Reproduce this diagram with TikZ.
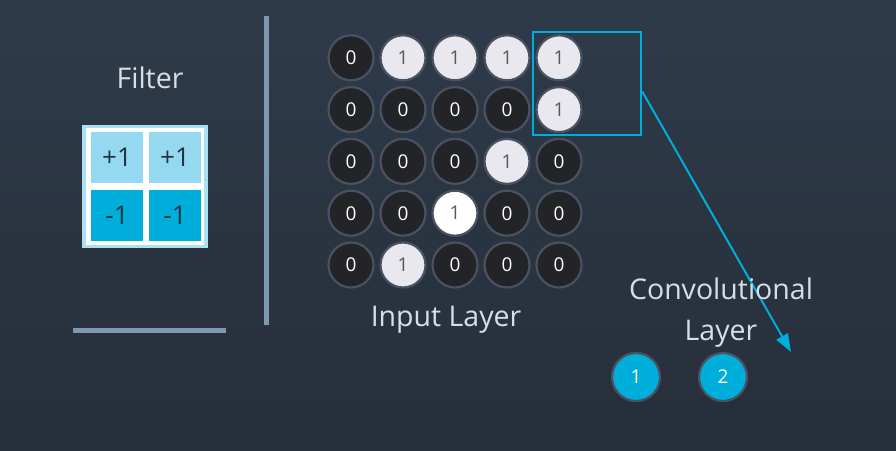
\documentclass[tikz,border=0pt]{standalone}
\usepackage{fontspec}
\setmainfont{Open Sans}
\usetikzlibrary{arrows.meta}
\definecolor{bg top}{HTML}{2F3B4A}
\definecolor{bg bottom}{HTML}{262E39}
\definecolor{bar}{HTML}{7E98B0}
\definecolor{ring}{HTML}{4A5262}
\definecolor{cell dark}{HTML}{222427}
\definecolor{cell light}{HTML}{E8E8EE}
\definecolor{conv blue}{HTML}{00AEDB}
\definecolor{filter light}{HTML}{94D9EF}
\definecolor{label}{HTML}{D8DEE6}
\definecolor{filter text}{HTML}{1E3344}
\colorlet{digit gray}{black!65}
\tikzset{bit/.style={circle, draw=ring, line width=2.2pt, minimum size=45pt,
        inner sep=0pt, font=\fontsize{19}{19}\selectfont},
    zero/.style={bit, fill=cell dark, text=white},
    one/.style={bit, fill=cell light, text=digit gray},
    cell/.style={minimum width=52pt, minimum height=51pt, inner sep=0pt,
        text=filter text, font=\fontsize{26}{26}\selectfont},
    caption/.style={text=label, font=\fontsize{28.5}{41}\selectfont, align=center},
    divider/.style={draw=bar, line width=5pt}}

\begin{document}
\begin{tikzpicture}[x=1pt, y=-1pt]
    \shade[top color=bg top, bottom color=bg bottom] (0,0) rectangle (896,450);
    \useasboundingbox (0,0) rectangle (896,450);
    % dividers
    \draw[divider] (266,16) -- (266,325);
    \draw[divider] (73,330) -- (226,330);
    % filter
    \node[caption] (filtertitle) at (150,78) {Filter};
    \fill[filter light!80] (82,125) rectangle (208,248);
    \fill[white] (86,128) rectangle (204,245);
    \node[cell, fill=filter light] (f11) at (117,157.5) {+1};
    \node[cell, fill=filter light] (f12) at (175,157.5) {+1};
    \node[cell, fill=conv blue] (f21) at (117,215.5) {-1};
    \node[cell, fill=conv blue] (f22) at (175,215.5) {-1};
    % input layer
    \foreach \row/\vals in {1/{0,1,1,1,1}, 2/{0,0,0,0,1}, 3/{0,0,0,1,0},
                            4/{0,0,2,0,0}, 5/{0,1,0,0,0}} {
        \foreach \v [count=\col] in \vals {
            \ifnum\v=0
                \node[zero] (in\row\col) at (299+52*\col, 6+51.8*\row) {0};
            \else\ifnum\v=1
                \node[one] (in\row\col) at (299+52*\col, 6+51.8*\row) {1};
            \else
                \node[one, fill=white] (in\row\col) at (299+52*\col, 6+51.8*\row) {1};
            \fi\fi
        }
    }
    \node[caption] (inputtitle) at (446,320) {Input Layer};
    % window and output
    \node[draw=conv blue, line width=2.5pt, minimum width=108pt, minimum height=103pt,
        inner sep=0pt] (win) at (587,83.5) {};
    \coordinate (tip) at (791,352);
    \draw[conv blue, line width=2pt, -{Triangle[length=18pt, width=13pt]}]
        ([yshift=-8pt]win.east) -- (tip);
    \node[caption] (convtitle) at (721,313) {Convolutional\\Layer};
    \node[bit, fill=conv blue, text=white, minimum size=48pt] (out1) at (636,377) {1};
    \node[bit, fill=conv blue, text=white, minimum size=48pt] (out2) at (723,377) {2};
\end{tikzpicture}
\end{document}
